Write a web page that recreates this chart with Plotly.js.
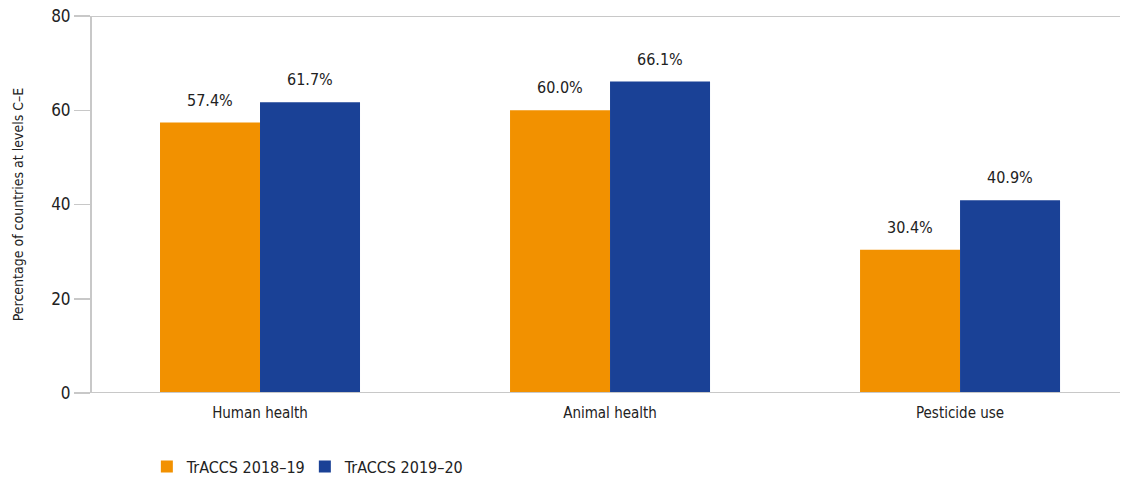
<!DOCTYPE html>
<html>
<head>
<meta charset="utf-8">
<script src="https://cdn.plot.ly/plotly-3.0.1.min.js"></script>
<style>html,body{margin:0;padding:0;background:#fff;}#chart{width:1121px;height:481px;}</style>
</head>
<body>
<div id="chart"></div>
<script>
const categories = ["Human health", "Animal health", "Pesticide use"];
const series1Name = "TrACCS 2018–19";
const series2Name = "TrACCS 2019–20";
const series1 = [57.4, 60.0, 30.4];
const series2 = [61.7, 66.1, 40.9];
const yTicks = [0, 20, 40, 60, 80];

const FONT = '"DejaVu Sans Condensed", sans-serif';
const fmt = v => v.toFixed(1) + '%';
const BARW = 0.2857;

const traces = [
  {type: 'bar', name: series1Name, x: [0,1,2], y: series1, width: BARW, offset: -BARW,
   marker: {color: '#F29100'}, hoverinfo: 'none'},
  {type: 'bar', name: series2Name, x: [0,1,2], y: series2, width: BARW, offset: 0,
   marker: {color: '#1A4196'}, hoverinfo: 'none'}
];

const annotations = [];
series1.forEach((v, i) => annotations.push({x: i - BARW/2, y: v, xref: 'x', yref: 'y', text: fmt(v),
  showarrow: false, yanchor: 'bottom', yshift: 11, font: {family: FONT, size: 16, color: '#222'}}));
series2.forEach((v, i) => annotations.push({x: i + BARW/2, y: v, xref: 'x', yref: 'y', text: fmt(v),
  showarrow: false, yanchor: 'bottom', yshift: 11, font: {family: FONT, size: 16, color: '#222'}}));

const layout = {
  width: 1121, height: 481,
  margin: {l: 92, r: 1, t: 16, b: 88},
  paper_bgcolor: '#fff', plot_bgcolor: '#fff',
  font: {family: FONT, size: 15, color: '#222'},
  barmode: 'overlay',
  showlegend: true,
  legend: {orientation: 'h', x: 0.131, xref: 'container', y: 0.03, yref: 'container',
           xanchor: 'left', yanchor: 'middle',
           font: {family: FONT, size: 16, color: '#222'}, traceorder: 'normal',
           itemwidth: 30, entrywidth: 113, entrywidthmode: 'pixels'},
  xaxis: {
    range: [-0.48, 2.457], tickvals: [0,1,2], ticktext: categories,
    showgrid: false, zeroline: false, showline: false, ticks: '',
    ticklabelstandoff: 9,
    tickfont: {family: FONT, size: 15, color: '#222'}, fixedrange: true
  },
  yaxis: {
    range: [0, 80], tickvals: yTicks, showgrid: false, zeroline: false,
    showline: true, linecolor: '#c8c8c8', linewidth: 2,
    ticks: 'outside', ticklen: 16, tickcolor: '#c8c8c8', tickwidth: 1.5,
    tickfont: {family: FONT, size: 17, color: '#222'},
    title: {text: 'Percentage of countries at levels C–E', font: {family: FONT, size: 14, color: '#222'}, standoff: 24},
    fixedrange: true
  },
  annotations: annotations,
  shapes: [
    {type: 'line', xref: 'paper', yref: 'y', x0: -0.016, x1: 1, y0: 80, y1: 80, line: {color: '#c8c8c8', width: 2}},
    {type: 'line', xref: 'paper', yref: 'y', x0: -0.016, x1: 1, y0: 0, y1: 0, line: {color: '#c8c8c8', width: 2}}
  ]
};

Plotly.newPlot('chart', traces, layout, {displayModeBar: false, staticPlot: true});
</script>
</body>
</html>
